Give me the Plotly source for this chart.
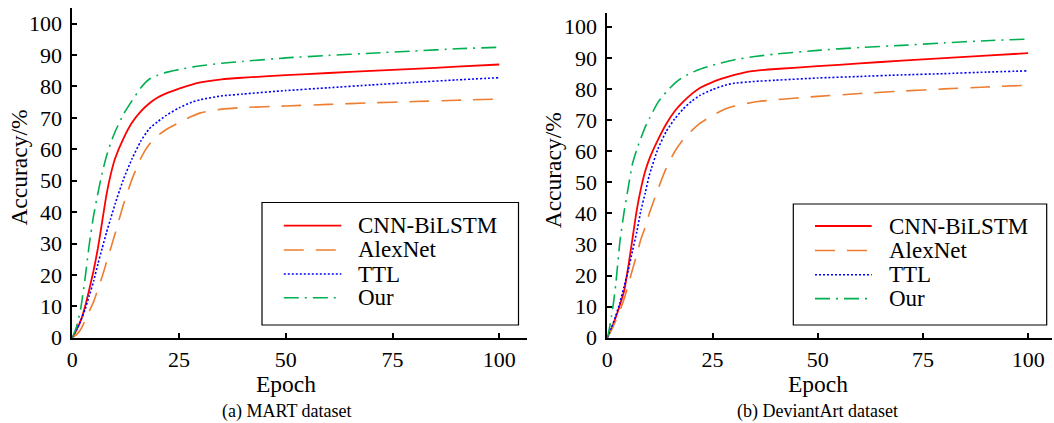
import plotly.graph_objects as go

W, H = 1054, 423

series_names = ["CNN-BiLSTM", "AlexNet", "TTL", "Our"]
captions = ["(a) MART dataset", "(b) DeviantArt dataset"]
x_ticks = [0, 25, 50, 75, 100]
y_ticks = [0, 10, 20, 30, 40, 50, 60, 70, 80, 90, 100]

# ---- (a) MART dataset ----
mart_cnn_x = [0, 1, 2, 3, 4, 5, 6, 7, 8, 9, 10, 12, 14, 16, 18, 20, 22, 25, 28, 30, 35, 40, 50, 60, 70, 80, 90, 100]
mart_cnn_y = [0, 2.5, 5.5, 10, 15.5, 21.5, 28.5, 37, 45.5, 52, 57, 63.5, 68.5, 72, 74.6, 76.5, 77.8, 79.3, 80.6, 81.3, 82.3, 82.8, 83.6, 84.3, 85, 85.6, 86.3, 87]
mart_alex_x = [0, 1, 2, 3, 4, 5, 6, 7, 8, 9, 10, 12, 14, 16, 18, 20, 22, 25, 28, 30, 35, 40, 50, 60, 70, 80, 90, 100]
mart_alex_y = [0, 1, 2.7, 5.5, 8.5, 11.5, 15.5, 19.5, 24, 28.5, 33, 42.5, 50.5, 57, 61.5, 64.3, 66.3, 68.5, 70.5, 71.6, 72.8, 73.3, 73.8, 74.3, 74.8, 75.2, 75.6, 76]
mart_ttl_x = [0, 1, 2, 3, 4, 5, 6, 7, 8, 9, 10, 12, 14, 16, 18, 20, 22, 25, 28, 30, 35, 40, 50, 60, 70, 80, 90, 100]
mart_ttl_y = [0, 2.5, 5.5, 9, 13.5, 18, 23.5, 28.5, 33.5, 38, 42.5, 50.5, 57, 62.5, 66.5, 68.8, 70.8, 73.2, 75, 75.8, 77, 77.6, 78.7, 79.6, 80.5, 81.3, 82.1, 82.8]
mart_our_x = [0, 1, 2, 3, 4, 5, 6, 7, 8, 9, 10, 12, 14, 16, 18, 20, 22, 25, 30, 35, 40, 50, 60, 70, 80, 90, 100]
mart_our_y = [0, 3.5, 9.5, 19, 30, 39, 46, 52.5, 57.8, 62, 65.5, 71.2, 75.5, 79.5, 82.3, 83.6, 84.5, 85.4, 86.6, 87.4, 88, 89.1, 89.9, 90.6, 91.3, 92, 92.5]

# ---- (b) DeviantArt dataset ----
dev_cnn_x = [0, 1, 2, 3, 4, 5, 6, 7, 8, 9, 10, 12, 14, 16, 18, 20, 22, 25, 28, 30, 33, 35, 40, 50, 60, 70, 80, 90, 100]
dev_cnn_y = [0, 3, 6.5, 10.5, 15, 23, 32, 41, 48, 53.5, 57.5, 63.5, 68.7, 72.8, 75.8, 78.3, 80.3, 82.2, 83.6, 84.4, 85.4, 85.8, 86.4, 87.3, 88.2, 89.1, 89.9, 90.7, 91.5]
dev_alex_x = [0, 1, 2, 3, 4, 5, 6, 7, 8, 9, 10, 12, 14, 16, 18, 20, 22, 25, 28, 30, 35, 40, 50, 60, 70, 80, 90, 100]
dev_alex_y = [0, 2.5, 5.5, 8.7, 12.5, 17, 22, 26.7, 31.7, 35.5, 40, 47.6, 54.5, 59.8, 63.7, 66.5, 68.9, 71.5, 73.5, 74.4, 75.8, 76.5, 77.6, 78.5, 79.3, 80, 80.6, 81.2]
dev_ttl_x = [0, 1, 2, 3, 4, 5, 6, 7, 8, 9, 10, 12, 14, 16, 18, 20, 22, 25, 28, 30, 35, 40, 50, 60, 70, 80, 90, 100]
dev_ttl_y = [0, 3.2, 7, 11.3, 16.5, 21.8, 28, 34, 41, 46.5, 52.3, 60.6, 66.3, 70.3, 73.5, 76, 77.9, 79.8, 81.2, 81.8, 82.4, 82.8, 83.5, 84, 84.5, 84.9, 85.4, 85.8]
dev_our_x = [0, 0.5, 1, 1.5, 2, 3, 4, 5, 6, 7, 8, 9, 10, 12, 14, 16, 18, 20, 22, 25, 30, 35, 40, 50, 60, 70, 80, 90, 100]
dev_our_y = [0, 3, 7, 11.5, 17, 31, 40.5, 48.5, 56, 60.5, 64.2, 67.7, 70.5, 75.6, 79, 81.8, 83.8, 85.2, 86.3, 87.6, 89.3, 90.4, 91.2, 92.4, 93.3, 94, 94.8, 95.5, 96]

colors = ["#ff0000", "#ee7d2f", "#0000ff", "#00b050"]
dashes = ["solid", "20px,12px", "2px,2px", "15px,6px,2px,6px"]
widths = [1.8, 1.6, 1.6, 1.6]

FONT = "Liberation Serif, Times New Roman, serif"

def px(x):
    return x / W

def py(y):
    return (H - y) / H

panels = [
    dict(xa="x", ya="y", data=[(mart_cnn_x, mart_cnn_y), (mart_alex_x, mart_alex_y),
                                (mart_ttl_x, mart_ttl_y), (mart_our_x, mart_our_y)],
         dom_x=(72.3, 527), dom_y=(8.3, 337.7), xr=106.5, yr=104.9,
         box=(262, 518.5, 202.5, 325), samp=(283.8, 341.3), text_x=356,
         rows=[225.7, 250, 274, 297.7], ylab_x=18.6, ylab_y=168, cap_x=286.6),
    dict(xa="x2", ya="y2", data=[(dev_cnn_x, dev_cnn_y), (dev_alex_x, dev_alex_y),
                                  (dev_ttl_x, dev_ttl_y), (dev_our_x, dev_our_y)],
         dom_x=(607.3, 1051.7), dom_y=(12.7, 337.7), xr=105.6, yr=104.5,
         box=(793.3, 1046.7, 204, 325), samp=(815, 871.7), text_x=886.5,
         rows=[226, 250.5, 274.8, 298.6], ylab_x=553.3, ylab_y=170, cap_x=817.3),
]

fig = go.Figure()
shapes = []
annotations = []
layout_axes = {}

for pi, p in enumerate(panels):
    for si, (xs, ys) in enumerate(p["data"]):
        fig.add_trace(go.Scatter(
            x=xs, y=ys, mode="lines", name=series_names[si],
            xaxis=p["xa"], yaxis=p["ya"], showlegend=False,
            line=dict(color=colors[si], width=widths[si], dash=dashes[si], shape="spline", smoothing=0.5),
            hoverinfo="skip"))
    sfx = "" if pi == 0 else "2"
    common = dict(showline=True, linecolor="black", linewidth=2, ticks="inside",
                  ticklen=5, tickwidth=1.5, tickcolor="black", showgrid=False, zeroline=False,
                  tickfont=dict(family=FONT, size=22, color="black"), mirror=False,
                  automargin=False)
    layout_axes["xaxis" + sfx] = dict(common, domain=[px(p["dom_x"][0]), px(p["dom_x"][1])],
                                      range=[0, p["xr"]], tickvals=x_ticks, anchor="y" + sfx,
                                      ticklabelstandoff=1)
    layout_axes["yaxis" + sfx] = dict(common, domain=[py(p["dom_y"][1]), py(p["dom_y"][0])],
                                      range=[0, p["yr"]], tickvals=y_ticks, anchor="x" + sfx,
                                      ticklabelstandoff=4)
    # legend box
    x0, x1, y0, y1 = p["box"]
    shapes.append(dict(type="rect", xref="paper", yref="paper", x0=px(x0), x1=px(x1),
                       y0=py(y1), y1=py(y0), line=dict(color="black", width=1.2),
                       fillcolor="white", layer="above"))
    for si, ry in enumerate(p["rows"]):
        shapes.append(dict(type="line", xref="paper", yref="paper",
                           x0=px(p["samp"][0]), x1=px(p["samp"][1]), y0=py(ry), y1=py(ry),
                           line=dict(color=colors[si], width=widths[si], dash=dashes[si]),
                           layer="above"))
        annotations.append(dict(text=series_names[si], xref="paper", yref="paper",
                                x=px(p["text_x"]), y=py(ry), xanchor="left", yanchor="middle",
                                showarrow=False, font=dict(family=FONT, size=23, color="black")))
    # axis titles
    annotations.append(dict(text="Epoch", xref="x" + sfx, yref="paper", x=50, y=py(384),
                            xanchor="center", yanchor="middle", showarrow=False,
                            font=dict(family=FONT, size=23.5, color="black")))
    annotations.append(dict(text="Accuracy/%", xref="paper", yref="paper", x=px(p["ylab_x"]),
                            y=py(p["ylab_y"]), xanchor="center", yanchor="middle", textangle=-90,
                            showarrow=False, font=dict(family=FONT, size=23.5, color="black")))
    annotations.append(dict(text=captions[pi], xref="paper", yref="paper", x=px(p["cap_x"]),
                            y=py(411), xanchor="center", yanchor="middle", showarrow=False,
                            font=dict(family=FONT, size=18, color="black")))

fig.update_layout(
    width=W, height=H, margin=dict(l=0, r=0, t=0, b=0),
    paper_bgcolor="white", plot_bgcolor="white",
    shapes=shapes, annotations=annotations, showlegend=False,
    **layout_axes)

fig.write_html("out.html")
